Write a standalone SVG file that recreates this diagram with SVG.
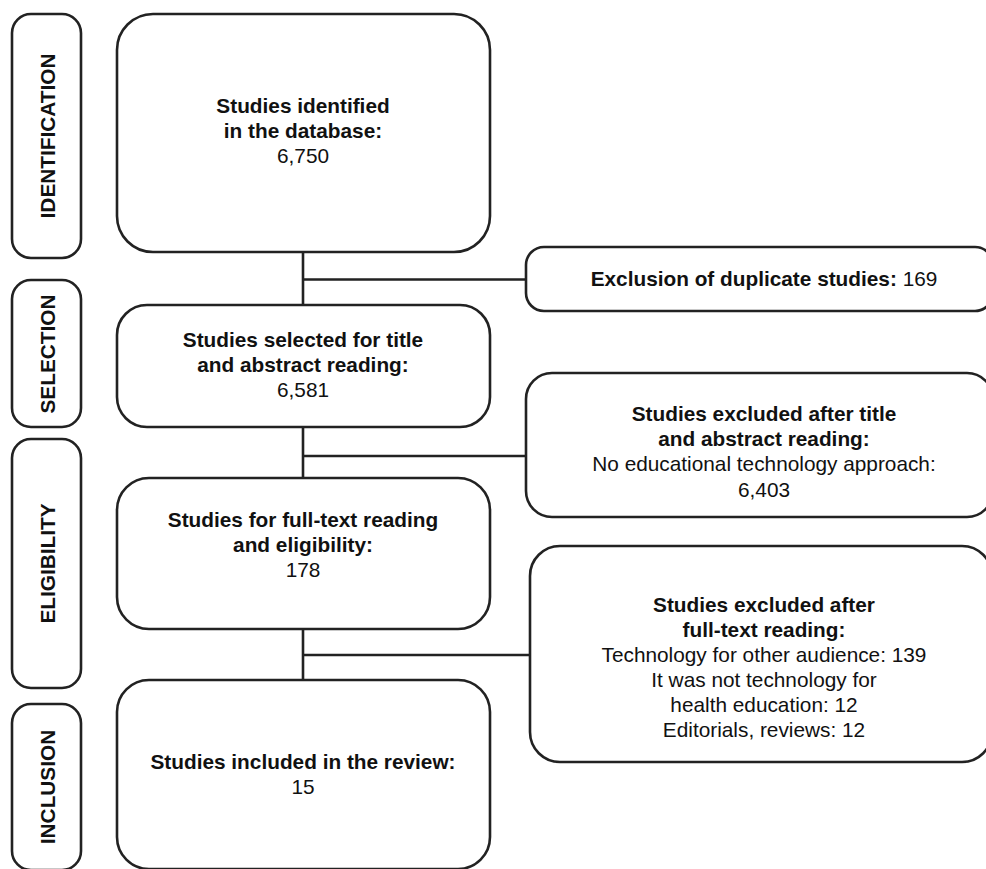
<svg xmlns="http://www.w3.org/2000/svg" width="986" height="869" viewBox="0 0 986 869">
<style>
.box{fill:#fff;stroke:#222;stroke-width:2.6}
.ln{fill:none;stroke:#222;stroke-width:2.6}
text{font-family:"Liberation Sans",Arial,sans-serif;font-size:20.8px;fill:#111;text-anchor:middle}
.b{font-weight:bold}
.ph{font-weight:bold;font-size:20.8px}
</style>
<rect width="986" height="869" fill="#fff"/>
<g id="connectors">
<path class="ln" d="M303 252V305M303 427V478M303 629V680M303 279.5H526M303 456H526M303 655H530"/>
</g>
<g id="phase-identification">
<rect class="box" x="12" y="14" width="69" height="244" rx="19"/>
<text class="ph" transform="translate(54.5,136) rotate(-90)">IDENTIFICATION</text>
</g>
<g id="phase-selection">
<rect class="box" x="12" y="280" width="69" height="147" rx="19"/>
<text class="ph" transform="translate(54.5,354) rotate(-90)">SELECTION</text>
</g>
<g id="phase-eligibility">
<rect class="box" x="12" y="439" width="69" height="249" rx="19"/>
<text class="ph" transform="translate(54.5,563.5) rotate(-90)">ELIGIBILITY</text>
</g>
<g id="phase-inclusion">
<rect class="box" x="12" y="704" width="69" height="166" rx="19"/>
<text class="ph" transform="translate(54.5,787) rotate(-90)">INCLUSION</text>
</g>
<g id="identified">
<rect class="box" x="117" y="14" width="373" height="238" rx="36"/>
<text class="b" x="303" y="113">Studies identified</text>
<text class="b" x="303" y="138">in the database:</text>
<text x="303" y="163">6,750</text>
</g>
<g id="selected">
<rect class="box" x="117" y="305" width="373" height="122" rx="30"/>
<text class="b" x="303" y="347">Studies selected for title</text>
<text class="b" x="303" y="372">and abstract reading:</text>
<text x="303" y="397">6,581</text>
</g>
<g id="fulltext">
<rect class="box" x="117" y="478" width="373" height="151" rx="32"/>
<text class="b" x="303" y="527">Studies for full-text reading</text>
<text class="b" x="303" y="552">and eligibility:</text>
<text x="303" y="577">178</text>
</g>
<g id="included">
<rect class="box" x="117" y="680" width="373" height="189" rx="32"/>
<text class="b" x="303" y="769">Studies included in the review:</text>
<text x="303" y="794">15</text>
</g>
<g id="duplicates">
<rect class="box" x="526" y="247" width="467" height="64" rx="18"/>
<text x="764" y="286"><tspan class="b">Exclusion of duplicate studies:</tspan> 169</text>
</g>
<g id="excluded-title">
<rect class="box" x="526" y="373" width="467" height="144" rx="26"/>
<text class="b" x="764" y="421">Studies excluded after title</text>
<text class="b" x="764" y="446">and abstract reading:</text>
<text x="764" y="471">No educational technology approach:</text>
<text x="764" y="497">6,403</text>
</g>
<g id="excluded-fulltext">
<rect class="box" x="530" y="546" width="462" height="216" rx="30"/>
<text class="b" x="764" y="612">Studies excluded after</text>
<text class="b" x="764" y="637">full-text reading:</text>
<text x="764" y="662">Technology for other audience: 139</text>
<text x="764" y="687">It was not technology for</text>
<text x="764" y="712">health education: 12</text>
<text x="764" y="737">Editorials, reviews: 12</text>
</g>
</svg>
